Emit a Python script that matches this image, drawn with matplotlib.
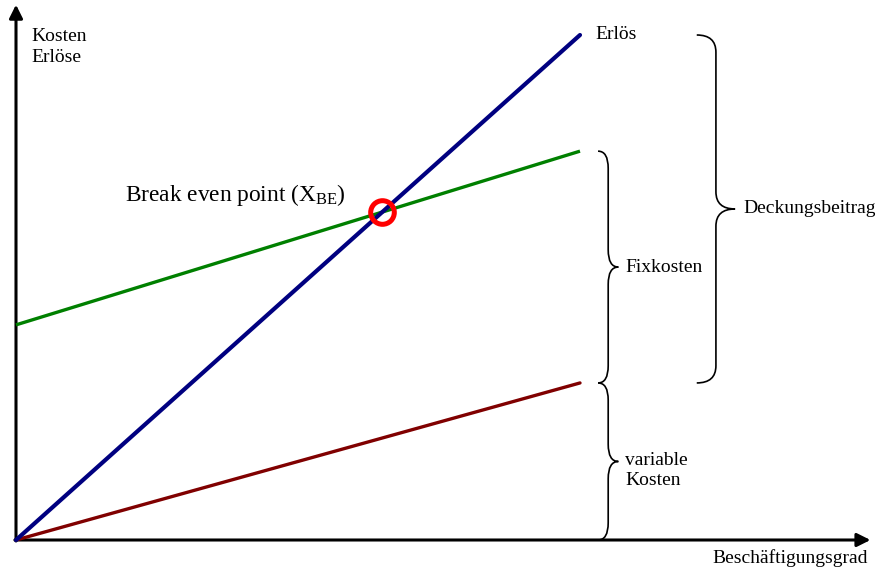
import matplotlib
matplotlib.use("Agg")
import matplotlib.pyplot as plt
from matplotlib.path import Path
from matplotlib.patches import PathPatch
import numpy as np

plt.rcParams['font.family'] = ['Liberation Serif', 'DejaVu Serif']
plt.rcParams['mathtext.fontset'] = 'custom'
plt.rcParams['mathtext.rm'] = 'Liberation Serif'
plt.rcParams['mathtext.it'] = 'Liberation Serif:italic'

# ---- data ----
x_vals = [0, 10]
erloes = [0, 100]
gesamtkosten = [42.6, 77.0]
variable_kosten = [0, 31.1]

fig = plt.figure(figsize=(8.75, 5.67), dpi=100)
ax = fig.add_axes([0, 0, 1, 1])
pxx = 56.4
pxy = 5.05
ax.set_xlim(-16 / pxx, (875 - 16) / pxx)
ax.set_ylim(-27 / pxy, 540 / pxy)
ax.axis('off')

# axes with arrows
ax.annotate('', xy=(15.15, 0), xytext=(-0.02, 0),
            arrowprops=dict(arrowstyle='-|>', lw=2.2, color='black', mutation_scale=20,
                            shrinkA=0, shrinkB=0))
ax.annotate('', xy=(0, 106.0), xytext=(0, -0.2),
            arrowprops=dict(arrowstyle='-|>', lw=2.2, color='black', mutation_scale=20,
                            shrinkA=0, shrinkB=0))

ax.plot(x_vals, variable_kosten, color='#800000', lw=2.4, solid_capstyle='round', zorder=3)
ax.plot(x_vals, gesamtkosten, color='#008000', lw=2.4, solid_capstyle='butt', zorder=3)
ax.plot(x_vals, erloes, color='#000080', lw=3.0, solid_capstyle='round', zorder=4)

# break-even point
s_e = (erloes[1] - erloes[0]) / (x_vals[1] - x_vals[0])
s_k = (gesamtkosten[1] - gesamtkosten[0]) / (x_vals[1] - x_vals[0])
x_be = (gesamtkosten[0] - erloes[0]) / (s_e - s_k)
y_be = erloes[0] + s_e * x_be
ax.plot([x_be], [y_be], marker='o', ms=17, mfc='none', mec='#ff0000', mew=3.6, zorder=5)


def brace(x0, ytop, ybot, w, r):
    xm = x0 + w / 2
    ymid = (ytop + ybot) / 2
    verts = [(x0, ytop), (xm, ytop), (xm, ytop - r),
             (xm, ymid + r), (xm, ymid), (x0 + w, ymid),
             (xm, ymid), (xm, ymid - r),
             (xm, ybot + r), (xm, ybot), (x0, ybot)]
    codes = [Path.MOVETO, Path.CURVE3, Path.CURVE3,
             Path.LINETO, Path.CURVE3, Path.CURVE3,
             Path.CURVE3, Path.CURVE3,
             Path.LINETO, Path.CURVE3, Path.CURVE3]
    ax.add_patch(PathPatch(Path(verts, codes), fc='none', ec='black', lw=1.2))
    return ymid


bx = 10.32
m1 = brace(bx, gesamtkosten[1], variable_kosten[1], 0.36, 3.4)
m2 = brace(bx, variable_kosten[1], variable_kosten[0], 0.36, 3.4)
m3 = brace(12.07, erloes[1], variable_kosten[1], 0.68, 3.4)

fs = 14
ax.text(10.27, erloes[1], 'Erlös', fontsize=fs, ha='left', va='center')
ax.text(10.8, m1, 'Fixkosten', fontsize=fs, ha='left', va='center')
ax.text(10.8, m2 - 1.8, 'variable\nKosten', fontsize=fs, ha='left', va='center', linespacing=1.2)
ax.text(12.9, m3, 'Deckungsbeitrag', fontsize=fs, ha='left', va='center')
ax.text(0.28, 97.6, 'Kosten\nErlöse', fontsize=fs, ha='left', va='center', linespacing=1.3)
ax.text(12.34, -3.6, 'Beschäftigungsgrad', fontsize=fs, ha='left', va='center')
ax.text(1.93, 68.4, r'Break even point (X$_{\mathrm{BE}}$)', fontsize=16.8, ha='left', va='center')

fig.savefig('out.png', dpi=100)
